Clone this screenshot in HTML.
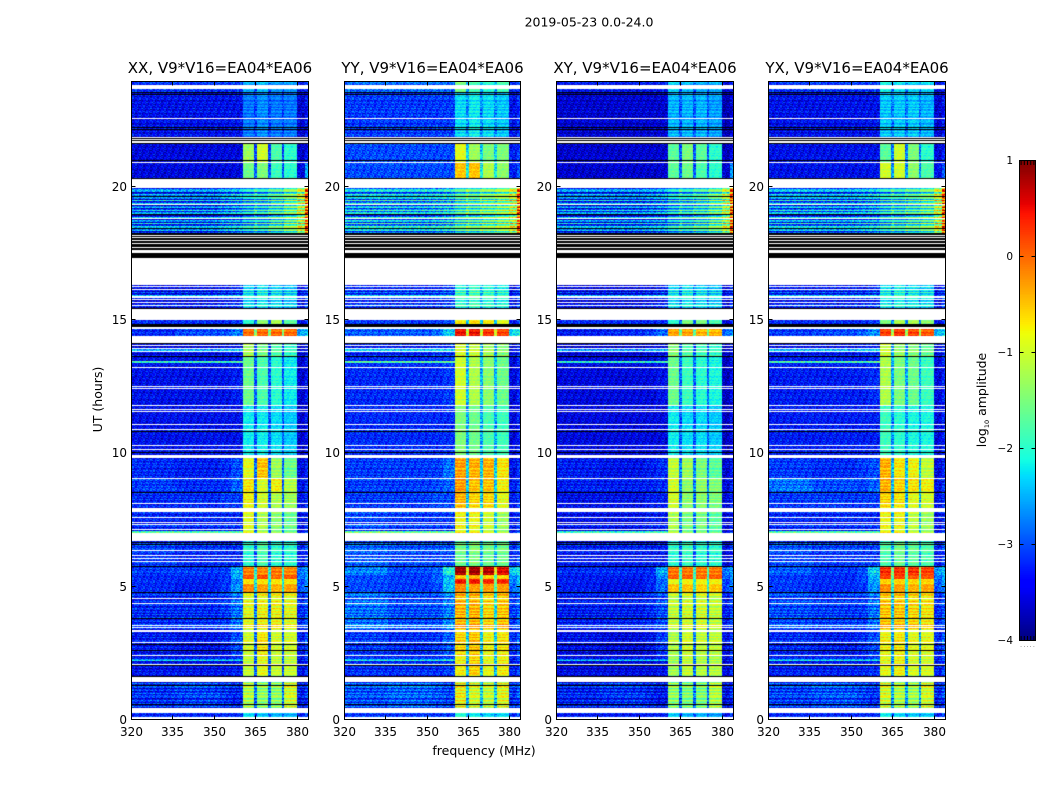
<!DOCTYPE html>
<html lang="en">
<head>
<meta charset="utf-8">
<title>2019-05-23 0.0-24.0</title>
<style>
html,body{margin:0;padding:0;background:#fff;}
#figure{position:relative;width:1050px;height:800px;overflow:hidden;background:#fff;}
canvas{position:absolute;display:block;}
svg{position:absolute;left:0;top:0;}
text{font-family:"DejaVu Sans","Liberation Sans",sans-serif;fill:#000;}
</style>
</head>
<body>
<div id="figure">
<svg id="overlay" width="1050" height="800" viewBox="0 0 1050 800" xmlns="http://www.w3.org/2000/svg">
  <text x="589" y="26.5" text-anchor="middle" font-size="12.5">2019-05-23 0.0-24.0</text>
  <text x="484" y="755" text-anchor="middle" font-size="12.5">frequency (MHz)</text>
  <text transform="translate(102,399.5) rotate(-90)" text-anchor="middle" font-size="12.5">UT (hours)</text>
  <text transform="translate(986,400) rotate(-90)" text-anchor="middle" font-size="12.5">log<tspan font-size="6.5" dy="3">10</tspan><tspan dy="-3"> amplitude</tspan></text>
</svg>
</div>
<script>
// ---- Chart data ----
const panelTitles = ["XX, V9*V16=EA04*EA06", "YY, V9*V16=EA04*EA06", "XY, V9*V16=EA04*EA06", "YX, V9*V16=EA04*EA06"];
const freqTicks = [320, 335, 350, 365, 380];
const hourTicks = [0, 5, 10, 15, 20];
const colorTicks = [-4, -3, -2, -1, 0, 1];
const colorTickLabels = ["\u22124", "\u22123", "\u22122", "\u22121", "0", "1"];
const colorbarMinorLabels = [".", ".", ".", ".", "."];

// Frequency segment edges (MHz) and the level column each segment uses
const freqEdges = [320, 336, 352, 356, 360.5, 364.5, 365.5, 369.5, 370.5, 374.5, 375.5, 380, 383, 384];
const freqLevelColumn = [0, 1, 2, 3, 4, 8, 5, 8, 6, 8, 7, 9, 10];

// Upper hour of each time epoch; one level row per epoch in every polarisation
const epochTops = [0.3, 1.58, 2.4, 3.3, 4.74, 5.06, 5.25, 5.40, 5.74, 6.67, 7.77, 8.5, 9.02, 9.9, 11.77, 13.6, 14.3, 14.65, 15.0, 16.3, 19.95, 20.85, 21.58, 23.5, 24];
const epochStripe = [0.5, 1.3, 0.8, 0.8, 1, 0.3, 0.3, 0.3, 0.6, 0.7, 0.7, 0.7, 0.7, 0.7, 0.3, 0.4, 0.8, 0.6, 0.3, 1.2, 2.6, 0.3, 0.3, 0.6, 0.5];

// Columns: 320-336, 336-352, 352-356, 356-360.5, sb1, sb2, sb3, sb4, sb-gap, 380-383, 383-384 (log10 amplitude)
const levelsXX = [
[-3.25,-3.25,-3.25,-3.25,-2.3,-2.4,-2.5,-2.5,-2.9,-3.35,-3.1],
[-3.25,-3.15,-3.25,-3.35,-1.2,-1.4,-1.4,-1.0,-2.9,-3.45,-3.2],
[-3.45,-3.45,-3.45,-3.35,-1.1,-0.9,-1.1,-1.1,-3.0,-3.45,-3.2],
[-3.35,-3.45,-3.35,-3.05,-1.0,-0.7,-1.0,-1.0,-2.9,-3.35,-3.1],
[-3.25,-3.25,-3.15,-2.85,-0.9,-0.8,-0.8,-0.9,-2.8,-3.25,-3.0],
[-3.25,-3.35,-3.15,-2.65,-0.2,-0.3,-0.4,-0.3,-2.2,-2.95,-2.7],
[-3.25,-3.35,-3.15,-2.85,-0.7,-0.7,-0.7,-0.7,-2.3,-3.05,-2.8],
[-3.25,-3.25,-3.15,-2.55,0.1,0.15,0.0,0.1,-2.0,-2.85,-2.6],
[-3.15,-3.15,-3.15,-2.55,-0.15,-0.2,-0.1,-0.2,-2.0,-2.85,-2.6],
[-3.15,-3.25,-3.25,-3.25,-2.0,-1.8,-2.0,-2.0,-3.0,-3.35,-3.1],
[-3.25,-3.25,-3.25,-3.25,-0.9,-1.2,-1.4,-1.6,-2.8,-3.45,-3.2],
[-3.25,-3.25,-3.15,-3.15,-0.8,-1.0,-1.2,-1.3,-2.9,-3.45,-3.2],
[-3.15,-3.25,-3.25,-2.95,-0.7,-1.0,-0.8,-1.2,-2.9,-3.45,-3.2],
[-3.25,-3.35,-3.25,-3.05,-0.9,-0.5,-1.3,-1.6,-2.9,-3.55,-3.3],
[-3.45,-3.45,-3.45,-3.45,-2.2,-2.2,-2.3,-2.4,-3.0,-3.65,-3.4],
[-3.45,-3.45,-3.45,-3.35,-1.6,-1.8,-2.0,-2.2,-3.0,-3.65,-3.4],
[-3.45,-3.45,-3.35,-3.35,-1.2,-1.5,-1.7,-1.9,-3.0,-3.55,-3.3],
[-3.25,-3.05,-3.05,-2.75,0.0,0.0,0.0,0.0,-1.4,-2.55,-2.3],
[-3.25,-3.25,-3.25,-3.15,-2.0,-1.4,-1.2,-1.7,-3.0,-3.45,-3.2],
[-3.35,-3.35,-3.25,-3.15,-2.2,-2.1,-2.2,-2.3,-2.7,-3.35,-3.1],
[-2.95,-2.95,-2.75,-2.65,-2.4,-2.3,-2.0,-1.7,-2.1,-1.2,0.0],
[-3.55,-3.55,-3.55,-3.55,-1.6,-1.5,-1.9,-2.0,-3.0,-3.55,-2.6],
[-3.55,-3.55,-3.55,-3.55,-1.3,-1.0,-1.8,-2.0,-3.1,-3.65,-3.4],
[-3.45,-3.45,-3.45,-3.45,-2.8,-2.7,-2.8,-2.8,-3.1,-3.65,-3.4],
[-3.15,-3.15,-3.15,-3.15,-2.5,-2.4,-2.6,-2.6,-2.9,-3.35,-3.1]
];
const levelsYY = [
[-3.15,-3.15,-3.15,-3.15,-2.0,-2.2,-2.3,-2.3,-2.7,-3.25,-3.0],
[-3.05,-2.95,-3.05,-3.15,-0.8,-1.0,-1.1,-0.9,-2.4,-3.25,-3.0],
[-3.25,-3.25,-3.25,-3.15,-0.8,-0.6,-0.9,-0.8,-2.5,-3.35,-3.1],
[-3.15,-3.25,-3.15,-2.95,-0.6,-0.5,-0.8,-0.7,-2.4,-3.25,-3.0],
[-2.85,-3.05,-3.05,-2.75,-0.4,-0.4,-0.6,-0.5,-2.2,-3.15,-2.9],
[-3.05,-3.15,-3.05,-2.45,-0.2,-0.3,-0.3,-0.3,-1.9,-2.85,-2.6],
[-3.05,-3.15,-2.95,-2.45,0.45,0.45,0.35,0.35,-1.6,-2.75,-2.5],
[-3.05,-3.15,-2.95,-2.55,-0.5,-0.4,-0.6,-0.6,-1.8,-2.75,-2.5],
[-2.75,-3.05,-2.95,-2.05,0.85,0.85,0.75,0.55,-0.8,-2.35,-2.1],
[-2.95,-3.05,-3.05,-3.05,-1.6,-1.5,-1.6,-1.6,-2.5,-3.25,-3.0],
[-3.05,-3.15,-3.15,-3.15,-0.8,-0.8,-1.0,-1.3,-2.4,-3.35,-3.1],
[-3.15,-3.15,-3.05,-3.05,-0.4,-0.6,-0.6,-0.9,-2.4,-3.35,-3.1],
[-3.15,-3.15,-3.05,-2.95,-0.3,-0.5,-0.5,-0.8,-2.4,-3.35,-3.1],
[-3.15,-3.15,-3.15,-2.85,-0.3,-0.4,-0.4,-0.7,-2.4,-3.45,-3.2],
[-3.25,-3.25,-3.25,-3.25,-1.5,-1.6,-1.8,-1.9,-2.6,-3.55,-3.3],
[-3.25,-3.25,-3.25,-3.15,-1.0,-1.2,-1.4,-1.6,-2.5,-3.55,-3.3],
[-3.25,-3.25,-3.15,-3.15,-0.9,-1.0,-1.2,-1.4,-2.5,-3.45,-3.2],
[-2.95,-2.95,-2.85,-2.35,0.5,0.5,0.3,0.2,-0.9,-2.25,-2.0],
[-3.15,-3.15,-3.15,-3.05,-0.7,-0.6,-0.7,-0.9,-2.5,-3.35,-3.1],
[-3.15,-3.15,-3.15,-3.05,-1.9,-1.8,-1.9,-2.0,-2.4,-3.35,-3.1],
[-2.55,-2.55,-2.45,-2.35,-2.0,-1.9,-1.7,-1.5,-1.7,-1.2,0.0],
[-3.05,-3.05,-3.05,-3.05,-0.5,-0.5,-1.2,-1.4,-2.2,-3.35,-3.0],
[-3.05,-3.05,-3.05,-3.05,-0.9,-1.3,-1.5,-1.5,-2.3,-3.35,-3.1],
[-3.15,-3.15,-3.15,-3.15,-2.3,-2.2,-2.3,-2.4,-2.7,-3.45,-3.2],
[-2.85,-2.85,-2.85,-2.85,-1.5,-1.8,-2.0,-1.8,-2.5,-3.25,-3.0]
];
const levelsXY = [
[-3.35,-3.35,-3.35,-3.35,-2.4,-2.5,-2.5,-2.6,-3.0,-3.45,-3.2],
[-3.35,-3.25,-3.35,-3.45,-1.4,-1.5,-1.5,-1.2,-2.9,-3.55,-3.3],
[-3.55,-3.55,-3.55,-3.45,-1.3,-1.1,-1.2,-1.2,-2.9,-3.55,-3.3],
[-3.45,-3.55,-3.45,-3.15,-1.2,-1.0,-1.1,-1.1,-2.8,-3.45,-3.2],
[-3.35,-3.35,-3.25,-3.05,-1.1,-1.0,-1.0,-1.1,-2.7,-3.35,-3.1],
[-3.35,-3.45,-3.25,-2.85,-0.5,-0.5,-0.6,-0.5,-2.1,-3.05,-2.8],
[-3.35,-3.45,-3.25,-2.95,-0.9,-0.8,-0.8,-0.8,-2.2,-3.15,-2.9],
[-3.35,-3.35,-3.25,-2.75,0.05,0.05,0.0,0.05,-1.9,-2.95,-2.7],
[-3.25,-3.25,-3.25,-2.55,-0.1,-0.1,-0.1,-0.1,-1.8,-2.85,-2.6],
[-3.35,-3.35,-3.35,-3.35,-2.0,-1.9,-2.0,-2.0,-3.0,-3.55,-3.3],
[-3.45,-3.45,-3.35,-3.35,-1.2,-1.5,-1.5,-1.7,-2.8,-3.55,-3.3],
[-3.45,-3.45,-3.35,-3.35,-1.0,-1.4,-1.4,-1.5,-2.8,-3.55,-3.3],
[-3.35,-3.35,-3.35,-3.25,-1.0,-1.4,-1.4,-1.5,-2.8,-3.55,-3.3],
[-3.35,-3.45,-3.35,-3.25,-1.1,-1.3,-1.5,-1.7,-2.8,-3.65,-3.4],
[-3.55,-3.55,-3.55,-3.55,-2.2,-2.3,-2.3,-2.4,-3.0,-3.75,-3.5],
[-3.55,-3.55,-3.55,-3.45,-1.6,-1.9,-2.0,-2.1,-2.9,-3.75,-3.5],
[-3.55,-3.55,-3.45,-3.45,-1.4,-1.7,-1.8,-1.9,-2.9,-3.65,-3.4],
[-3.35,-3.25,-3.15,-2.85,-0.3,-0.3,-0.4,-0.4,-1.6,-2.85,-2.6],
[-3.25,-3.25,-3.25,-3.25,-2.0,-1.5,-1.5,-1.8,-3.0,-3.55,-3.3],
[-3.45,-3.45,-3.35,-3.25,-2.2,-2.1,-2.2,-2.3,-2.7,-3.45,-3.2],
[-2.95,-2.95,-2.85,-2.75,-2.4,-2.3,-2.1,-1.8,-2.1,-1.3,0.0],
[-3.65,-3.65,-3.65,-3.65,-1.7,-1.6,-1.8,-2.0,-3.0,-3.65,-2.7],
[-3.65,-3.65,-3.65,-3.65,-1.7,-1.5,-1.7,-2.0,-3.0,-3.75,-3.5],
[-3.65,-3.65,-3.65,-3.65,-2.5,-2.5,-2.5,-2.6,-3.0,-3.85,-3.6],
[-3.35,-3.35,-3.35,-3.35,-2.3,-2.4,-2.5,-2.5,-2.9,-3.55,-3.3]
];
const levelsYX = [
[-3.25,-3.25,-3.25,-3.25,-2.2,-2.3,-2.4,-2.4,-2.8,-3.35,-3.1],
[-3.15,-3.05,-3.15,-3.25,-1.0,-1.2,-1.3,-1.0,-2.6,-3.35,-3.1],
[-3.35,-3.35,-3.35,-3.25,-0.9,-0.8,-1.0,-1.0,-2.7,-3.35,-3.1],
[-3.25,-3.35,-3.25,-3.05,-0.8,-0.7,-0.9,-0.9,-2.6,-3.25,-3.0],
[-3.05,-3.15,-3.15,-2.85,-0.5,-0.5,-0.6,-0.7,-2.4,-3.25,-3.0],
[-3.15,-3.25,-3.15,-2.65,-0.2,-0.3,-0.4,-0.3,-2.0,-2.95,-2.7],
[-3.15,-3.25,-3.05,-2.65,-0.6,-0.6,-0.6,-0.6,-2.0,-2.95,-2.7],
[-3.15,-3.25,-3.05,-2.55,0.2,0.2,0.1,0.1,-1.8,-2.85,-2.6],
[-2.95,-3.15,-3.05,-2.35,0.3,0.3,0.3,0.2,-1.4,-2.65,-2.4],
[-3.05,-3.15,-3.15,-3.15,-1.8,-1.6,-1.7,-1.8,-2.7,-3.35,-3.1],
[-3.25,-3.25,-3.25,-3.25,-0.8,-0.8,-1.1,-1.3,-2.5,-3.45,-3.2],
[-3.15,-3.15,-3.15,-3.15,-0.6,-0.7,-0.9,-1.0,-2.5,-3.45,-3.2],
[-2.85,-3.05,-3.15,-2.95,-0.4,-0.6,-0.7,-0.8,-2.5,-3.45,-3.2],
[-3.15,-3.25,-3.15,-3.05,-0.4,-0.7,-0.8,-1.1,-2.5,-3.55,-3.3],
[-3.35,-3.35,-3.35,-3.35,-1.9,-2.0,-2.1,-2.1,-2.7,-3.55,-3.3],
[-3.35,-3.35,-3.35,-3.25,-1.2,-1.5,-1.6,-1.9,-2.6,-3.55,-3.3],
[-3.35,-3.35,-3.25,-3.25,-1.0,-1.3,-1.4,-1.6,-2.6,-3.45,-3.2],
[-3.15,-3.05,-2.95,-2.65,0.25,0.3,0.2,0.1,-1.2,-2.45,-2.2],
[-3.25,-3.25,-3.25,-3.15,-1.5,-1.2,-1.2,-1.4,-2.8,-3.45,-3.2],
[-3.25,-3.25,-3.25,-3.15,-2.1,-2.0,-2.1,-2.2,-2.5,-3.35,-3.1],
[-2.75,-2.75,-2.65,-2.55,-2.3,-2.2,-2.0,-1.8,-2.0,-1.2,0.0],
[-3.45,-3.45,-3.45,-3.45,-1.0,-1.0,-1.4,-1.8,-2.7,-3.45,-3.0],
[-3.45,-3.45,-3.45,-3.45,-1.7,-1.0,-1.5,-2.0,-2.8,-3.55,-3.3],
[-3.45,-3.45,-3.45,-3.45,-2.4,-2.4,-2.4,-2.5,-2.8,-3.65,-3.4],
[-3.15,-3.15,-3.15,-3.15,-2.1,-2.2,-2.3,-2.3,-2.7,-3.45,-3.2]
];
const panelLevels = [levelsXX, levelsYY, levelsXY, levelsYX];

// Flagged time ranges common to all panels, hours [start, end]: white = no data, black = zero
const whiteHours = [
[0,0.075],[0.225,0.412],[1.387,1.563],[2.024,2.062],[2.362,2.399],[2.849,2.887],[3.273,3.348],[3.4,3.438],[3.486,3.524],
[4.311,4.349],[4.499,4.536],[5.897,5.923],[6.009,6.036],[6.111,6.148],[6.324,6.347],[6.673,6.973],[7.096,7.123],[7.273,7.299],
[7.359,7.385],[7.547,7.573],[7.771,7.921],[8.06,8.086],[9.009,9.035],[9.784,9.897],[10.096,10.122],[10.246,10.272],[10.834,10.86],
[11.033,11.059],[11.52,11.546],[11.595,11.621],[11.745,11.771],[12.371,12.409],[12.446,12.472],[13.17,13.207],[13.77,13.807],
[13.882,13.92],[14.01,14.032],[14.107,14.283],[14.295,14.347],[14.62,14.684],[14.958,15.37],[15.494,15.532],[15.584,15.621],
[15.696,15.734],[15.771,15.809],[15.832,15.869],[16.082,16.108],[16.206,16.233],[16.27,17.294],[17.481,17.582],[17.657,17.705],
[17.807,17.856],[17.931,17.968],[18.02,18.07],[18.107,18.155],[18.733,18.781],[19.269,19.306],[19.925,20.255],[20.843,20.88],
[21.582,21.668],[21.705,21.754],[21.792,21.83],[22.493,22.53],[23.617,23.767]
];
const blackHours = [
[0.525,0.562],[1.237,1.275],[1.563,1.601],[1.987,2.024],[2.56,2.598],[2.774,2.812],[3.738,3.775],[4.723,4.761],[5.698,5.736],
[6.534,6.572],[6.609,6.647],[7.299,7.321],[8.499,8.521],[9.961,10.009],[10.77,10.808],[13.58,13.62],[14.077,14.107],[14.684,14.819],
[15.37,15.408],[17.294,17.481],[17.582,17.657],[17.705,17.807],[17.856,17.931],[17.968,18.02],[18.07,18.107],[18.155,18.208],
[18.369,18.407],[18.883,18.92],[19.58,19.618],[20.255,20.292],[20.93,20.967],[21.555,21.582],[21.668,21.705],[21.754,21.792],
[22.08,22.118],[22.174,22.204],[23.392,23.43],[23.486,23.516]
];

// Narrow interference rows seen across the low band: hour, added log10 amplitude
const rfiHours = [2.2, 7.0, 13.38, 13.85, 15.85];
const rfiBoost = [1.0, 1.4, 1.5, 0.9, 0.6];

// Hand-read row banding and cell mottling, log10 amplitude offsets
const rowRipple = [0.12,-0.18,0.3,-0.05,-0.28,0.22,0.05,-0.32,0.18,0.28,-0.12,-0.22,0.34,-0.3,0.08,0.16,-0.26,0.02,0.26,-0.16,-0.34,0.14,0.2];
const cellGrain = [0.22,-0.3,0.05,0.34,-0.14,-0.42,0.18,0.4,-0.24,0.02,0.3,-0.36,0.12,-0.08,0.44,-0.2,-0.46,0.26,0.08,-0.32,0.36,-0.04,-0.18,0.16,0.48,-0.38,0.1,-0.26,0.28,-0.1,0.42,-0.44,0.04,0.2,-0.16,0.32,-0.28];

// jet colormap control points
const jetR = [[0,0],[0.35,0],[0.66,1],[0.89,1],[1,0.5]];
const jetG = [[0,0],[0.125,0],[0.375,1],[0.64,1],[0.91,0],[1,0]];
const jetB = [[0,0.5],[0.11,1],[0.34,1],[0.65,0],[1,0]];

// ---- Scales ----
const panelLefts = [131, 344, 556, 768];
const panelWidths = [177, 176, 177, 177];
let panelWidth = 177;
const plotTop = 81, plotBottom = 719;
const freqMin = 320, freqMax = 384, hourMin = 0, hourMax = 23.92;
const colorMin = -4, colorMax = 1;
const barLeft = 1019, barRight = 1035, barTop = 160, barBottom = 640;

function xScale(f) { return (f - freqMin) / (freqMax - freqMin) * panelWidth; }
function yScale(h) { return (plotBottom - plotTop) * (1 - (h - hourMin) / (hourMax - hourMin)); }
function cScale(v) { return barBottom - (v - colorMin) / (colorMax - colorMin) * (barBottom - barTop); }

function jetChannel(pts, t) {
  for (let i = 1; i < pts.length; i++) {
    if (t <= pts[i][0]) {
      const a = pts[i - 1], b = pts[i];
      return a[1] + (b[1] - a[1]) * (t - a[0]) / (b[0] - a[0]);
    }
  }
  return pts[pts.length - 1][1];
}
const colorCache = {};
function jetColor(v) {
  const t = Math.max(0, Math.min(1, (v - colorMin) / (colorMax - colorMin)));
  const key = Math.round(t * 255);
  if (!colorCache[key]) {
    const q = key / 255;
    colorCache[key] = 'rgb(' + Math.round(255 * jetChannel(jetR, q)) + ',' + Math.round(255 * jetChannel(jetG, q)) + ',' + Math.round(255 * jetChannel(jetB, q)) + ')';
  }
  return colorCache[key];
}
function epochIndex(h) {
  for (let i = 0; i < epochTops.length; i++) {
    if (h < epochTops[i]) return i;
  }
  return epochTops.length - 1;
}
function segmentIndex(f) {
  for (let i = 1; i < freqEdges.length; i++) {
    if (f < freqEdges[i]) return i - 1;
  }
  return freqEdges.length - 2;
}

// ---- Drawing ----
const figure = document.getElementById('figure');
const overlay = document.getElementById('overlay');
const SVG_NS = 'http://www.w3.org/2000/svg';

function svgEl(tag, attrs) {
  const el = document.createElementNS(SVG_NS, tag);
  for (const k in attrs) el.setAttribute(k, attrs[k]);
  overlay.appendChild(el);
  return el;
}

function drawFlags(ctx, ranges, color) {
  ctx.fillStyle = color;
  ranges.forEach(function (range) {
    const y1 = Math.round(yScale(range[1]));
    const y0 = Math.max(y1 + 1, Math.round(yScale(range[0])));
    ctx.fillRect(0, y1, panelWidth, y0 - y1);
  });
}

function drawHeatmap(ctx, levels) {
  const rowStep = (hourMax - hourMin) / (plotBottom - plotTop);
  const colStep = 0.5;
  const nRows = Math.round((hourMax - hourMin) / rowStep);
  const nCols = Math.round((freqMax - freqMin) / colStep);
  for (let r = 0; r < nRows; r++) {
    const h = hourMin + (r + 0.5) * rowStep;
    const y1 = Math.round(yScale(hourMin + (r + 1) * rowStep));
    const y0 = Math.round(yScale(hourMin + r * rowStep));
    const e = epochIndex(h);
    const row = levels[e];
    const ripple = rowRipple[r % rowRipple.length] * epochStripe[e];
    let rfi = 0;
    for (let k = 0; k < rfiHours.length; k++) {
      if (Math.abs(h - rfiHours[k]) < rowStep) rfi = rfiBoost[k];
    }
    for (let c = 0; c < nCols; c++) {
      const f = freqMin + (c + 0.5) * colStep;
      const col = freqLevelColumn[segmentIndex(f)];
      const inBand = col >= 4 && col <= 7;
      const grain = cellGrain[(c + r * 5) % cellGrain.length] * (inBand ? 0.45 : 1);
      const v = row[col] + ripple + grain + (col < 4 ? rfi : 0);
      const x0 = Math.round(xScale(freqMin + c * colStep));
      const x1 = Math.round(xScale(freqMin + (c + 1) * colStep));
      ctx.fillStyle = jetColor(v);
      ctx.fillRect(x0, y1, x1 - x0, y0 - y1);
    }
  }
  drawFlags(ctx, blackHours, '#000');
  drawFlags(ctx, whiteHours, '#fff');
}

panelTitles.forEach(function (title, p) {
  const left = panelLefts[p];
  panelWidth = panelWidths[p];
  const canvas = document.createElement('canvas');
  
  
  canvas.width = panelWidth;
  canvas.height = plotBottom - plotTop;
  canvas.style.left = left + 'px';
  canvas.style.top = plotTop + 'px';
  figure.insertBefore(canvas, overlay);
  drawHeatmap(canvas.getContext('2d'), panelLevels[p]);

  const frame = svgEl('rect', { x: left + 0.5, y: plotTop + 0.5, width: panelWidth, height: plotBottom - plotTop, fill: 'none', stroke: '#000', 'stroke-width': 1 });
  
  

  const t = svgEl('text', { x: left + panelWidth / 2 + 0.5, y: 73, 'text-anchor': 'middle', 'font-size': 15 });
  
  
  t.textContent = title;

  freqTicks.forEach(function (f) {
    const x = Math.round(left + xScale(f)) + 0.5;
    const bottomTick = svgEl('line', { x1: x, x2: x, y1: plotBottom + 0.5, y2: plotBottom - 3.5, stroke: '#000' });
    
    
    const topTick = svgEl('line', { x1: x, x2: x, y1: plotTop + 0.5, y2: plotTop + 4.5, stroke: '#000' });
    
    
    const label = svgEl('text', { x: x, y: 736, 'text-anchor': 'middle', 'font-size': 12 });
    
    
    label.textContent = String(f);
  });
  hourTicks.forEach(function (h) {
    const y = Math.round(plotTop + yScale(h)) + 0.5;
    const leftTick = svgEl('line', { x1: left + 0.5, x2: left + 4.5, y1: y, y2: y, stroke: '#000' });
    
    
    const rightTick = svgEl('line', { x1: left + panelWidth + 0.5, x2: left + panelWidth - 3.5, y1: y, y2: y, stroke: '#000' });
    
    
    const label = svgEl('text', { x: left - 4, y: y + 4.5, 'text-anchor': 'end', 'font-size': 12 });
    
    
    label.textContent = String(h);
  });
});

// Colorbar
const barCanvas = document.createElement('canvas');


barCanvas.width = barRight - barLeft;
barCanvas.height = barBottom - barTop;
barCanvas.style.left = barLeft + 'px';
barCanvas.style.top = barTop + 'px';
figure.insertBefore(barCanvas, overlay);
const barCtx = barCanvas.getContext('2d');
for (let i = 0; i < 256; i++) {
  const v0 = colorMin + (colorMax - colorMin) * i / 256;
  const v1 = colorMin + (colorMax - colorMin) * (i + 1) / 256;
  barCtx.fillStyle = jetColor((v0 + v1) / 2);
  const yTop = Math.floor(cScale(v1) - barTop);
  const yBot = Math.ceil(cScale(v0) - barTop);
  barCtx.fillRect(0, yTop, barRight - barLeft, yBot - yTop);
}
const barFrame = svgEl('rect', { x: barLeft + 0.5, y: barTop + 0.5, width: barRight - barLeft, height: barBottom - barTop, fill: 'none', stroke: '#000', 'stroke-width': 1 });


colorTicks.forEach(function (v, i) {
  const y = Math.round(cScale(v)) + 0.5;
  const tl = svgEl('line', { x1: barLeft + 0.5, x2: barLeft + 4.5, y1: y, y2: y, stroke: '#000' });
  
  
  const tr = svgEl('line', { x1: barRight + 0.5, x2: barRight - 3.5, y1: y, y2: y, stroke: '#000' });
  
  
  const label = svgEl('text', { x: barLeft - 6, y: y + 3.5, 'text-anchor': 'end', 'font-size': 10.5 });
  
  
  label.textContent = colorTickLabels[i];
});
colorbarMinorLabels.forEach(function (s, i) {
  const x = barLeft + 0.5 + (i + 0.5) * (barRight - barLeft) / colorbarMinorLabels.length;
  const tb = svgEl('line', { x1: x, x2: x, y1: barBottom + 0.5, y2: barBottom - 4, stroke: '#000' });
  
  
  const tt = svgEl('line', { x1: x, x2: x, y1: barTop + 0.5, y2: barTop + 5, stroke: '#000' });
  
  
  const label = svgEl('text', { x: x, y: 647, 'text-anchor': 'middle', 'font-size': 5 });
  
  
  label.textContent = s;
});
</script>
</body>
</html>
